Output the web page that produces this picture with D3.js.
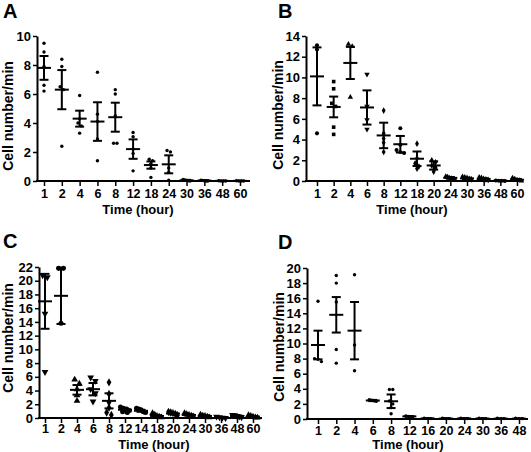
<!DOCTYPE html>
<html><head><meta charset="utf-8">
<script src="https://cdn.jsdelivr.net/npm/d3@7"></script>
<style>
html,body{margin:0;padding:0;background:#fff;}
svg text{font-family:"Liberation Sans",Arial,sans-serif;font-weight:bold;fill:#000;}
</style></head>
<body><svg id="c" width="531" height="452"></svg>
<script>
// ---------- Data ----------
const catsA = ["1","2","4","6","8","12","18","24","30","36","48","60"];
const meanA = [7.8, 6.3, 4.3, 4.1, 4.4, 2.2, 1.1, 1.15, 0.05, 0.03, 0.01, 0.01];
const semA  = [0.82, 1.35, 0.55, 1.33, 1.0, 0.67, 0.25, 0.62, 0.03, 0.02, 0.01, 0.01];
const pointsA = [
  [9.5, 8.9, 7.9, 6.6, 6.2],
  [8.4, 7.9, 6.5, 6.3, 2.4],
  [5.9, 4.3, 4.0, 3.8, 3.3],
  [7.5, 4.6, 4.1, 2.9, 1.4],
  [6.3, 6.0, 4.5, 2.6, 2.6],
  [3.35, 3.05, 2.2, 1.9, 0.7],
  [1.5, 1.4, 1.2, 0.9, 0.25],
  [2.1, 2.0, 0.9, 0.6, 0.05],
  [0.1, 0.08, 0.04, 0.02, 0.0],
  [0.06, 0.04, 0.02, 0.0, 0.0],
  [0.02, 0.0, 0.0, 0.0],
  [0.02, 0.0, 0.0, 0.0]
];
const yTicksA = [0, 2, 4, 6, 8, 10];

const catsB = ["1","2","4","6","8","12","18","20","24","30","36","48","60"];
const meanB = [10.1, 7.15, 11.4, 7.1, 4.4, 3.55, 2.15, 1.5, 0.3, 0.25, 0.2, 0.03, 0.12];
const semB  = [2.8, 1.0, 1.55, 1.65, 1.23, 0.8, 0.7, 0.4, 0.08, 0.07, 0.06, 0.02, 0.08];
const pointsB = [
  [13.1, 12.7, 4.6],
  [9.6, 8.9, 7.5, 7.2, 5.2, 4.5],
  [13.2, 13.0, 8.1],
  [10.3, 7.2, 5.9, 5.0],
  [6.8, 4.6, 4.1, 3.7, 2.8],
  [5.1, 3.5, 3.0, 2.8, 2.7],
  [3.6, 2.2, 1.7, 1.4, 1.2],
  [2.0, 1.8, 1.5, 1.3, 0.9],
  [0.45, 0.4, 0.3, 0.25, 0.2, 0.15],
  [0.4, 0.35, 0.3, 0.2, 0.15],
  [0.35, 0.3, 0.2, 0.15, 0.1],
  [0.05, 0.03, 0.02, 0.0],
  [0.3, 0.2, 0.1, 0.05, 0.0]
];
const yTicksB = [0, 2, 4, 6, 8, 10, 12, 14];

const catsC = ["1","2","4","6","8","12","14","18","20","24","30","36","48","60"];
const meanC = [17.0, 17.8, 4.1, 4.2, 2.5, 1.2, 1.05, 0.3, 0.65, 0.45, 0.3, 0.1, 0.3, 0.2];
const semC  = [4.0, 4.1, 0.7, 0.9, 1.1, 0.15, 0.15, 0.1, 0.12, 0.1, 0.08, 0.05, 0.08, 0.06];
const pointsC = [
  [20.8, 20.5, 15.2, 6.7],
  [21.8, 21.8, 13.8],
  [5.6, 5.0, 4.2, 3.3, 2.5],
  [5.9, 5.4, 4.2, 3.6, 2.4],
  [5.2, 3.5, 2.3, 1.5, 0.8, 0.45],
  [1.6, 1.4, 1.3, 1.1, 0.9, 0.8],
  [1.4, 1.3, 1.2, 0.9, 0.8],
  [0.7, 0.5, 0.3, 0.2, 0.1],
  [0.9, 0.8, 0.7, 0.6, 0.4],
  [0.7, 0.55, 0.45, 0.35, 0.2],
  [0.5, 0.35, 0.3, 0.2, 0.1],
  [0.2, 0.1, 0.05, 0.0],
  [0.45, 0.4, 0.3, 0.2, 0.1],
  [0.4, 0.3, 0.2, 0.1, 0.05]
];
const yTicksC = [0, 2, 4, 6, 8, 10, 12, 14, 16, 18, 20, 22];

const catsD = ["1","2","4","6","8","12","16","20","24","30","36","48"];
const meanD = [9.8, 13.8, 11.7, 2.45, 2.35, 0.35, 0.08, 0.06, 0.08, 0.06, 0.05, 0.05];
const semD  = [1.9, 2.35, 3.8, 0.08, 0.9, 0.05, 0.02, 0.02, 0.02, 0.02, 0.02, 0.02];
const pointsD = [
  [15.6, 8.0, 7.9, 7.6],
  [19.0, 18.0, 15.5, 9.2, 7.4],
  [19.1, 9.8, 6.4],
  [2.55, 2.5, 2.45, 2.4, 2.35],
  [3.9, 3.9, 2.4, 2.0, 1.5, 0.7],
  [0.4, 0.35, 0.3, 0.3],
  [0.1, 0.05, 0.05],
  [0.1, 0.05, 0.05],
  [0.1, 0.05, 0.05],
  [0.1, 0.05, 0.05],
  [0.1, 0.05, 0.05],
  [0.1, 0.05, 0.05]
];
const yTicksD = [0, 2, 4, 6, 8, 10, 12, 14, 16, 18, 20];

const panelLetters = ["A", "B", "C", "D"];
const xTitle = "Time (hour)";
const yTitle = "Cell number/min";

// marker shape per category (styling)
const shapesB = ["circle","square","triangle","down","diamond","circle","diamond","diamond","triangle","diamond","diamond","circle","triangle"];
const shapesC = ["down","circle","triangle","down","diamond","circle","circle","triangle","diamond","triangle","triangle","down","down","triangle"];

// ---------- Layout ----------
const panels = [
  {letter: panelLetters[0], cats: catsA, mean: meanA, sem: semA, pts: pointsA, ticks: yTicksA,
   axL: 37, axR: 250, c0: 44, c1: 240, y0: 181, yT: 36, lx: 3, ly: 18,
   ytx: 13, yty: 116, xtx: 138, xty: 214, tlY: 198, mode: "dot", ms: 1.7},
  {letter: panelLetters[1], cats: catsB, mean: meanB, sem: semB, pts: pointsB, ticks: yTicksB,
   axL: 306, axR: 523, c0: 317, c1: 517, y0: 181, yT: 36, lx: 278, ly: 18,
   ytx: 283, yty: 115, xtx: 412, xty: 214, tlY: 198, mode: "sym", ms: 13, shapes: shapesB},
  {letter: panelLetters[2], cats: catsC, mean: meanC, sem: semC, pts: pointsC, ticks: yTicksC,
   axL: 39, axR: 262, c0: 45, c1: 253, y0: 418, yT: 267, lx: 3, ly: 248,
   ytx: 13, yty: 338, xtx: 154, xty: 449, tlY: 433, mode: "sym", ms: 20, shapes: shapesC},
  {letter: panelLetters[3], cats: catsD, mean: meanD, sem: semD, pts: pointsD, ticks: yTicksD,
   axL: 307, axR: 528, c0: 318, c1: 519, y0: 419, yT: 268, lx: 278, ly: 249,
   ytx: 284, yty: 347, xtx: 408, xty: 449, tlY: 435, mode: "dot", ms: 1.7}
];

const svg = d3.select("#c");
const symMap = {circle: d3.symbolCircle, square: d3.symbolSquare, triangle: d3.symbolTriangle,
                down: d3.symbolTriangle, diamond: d3.symbolDiamond};

panels.forEach(p => {
  const g = svg.append("g");
  const x = d3.scalePoint().domain(p.cats).range([p.c0, p.c1]);
  const yMax = p.ticks[p.ticks.length - 1];
  const y = d3.scaleLinear().domain([0, yMax]).range([p.y0, p.yT]);

  g.append("text").attr("x", p.lx).attr("y", p.ly).attr("font-size", 20).text(p.letter);

  const ya = g.append("g").attr("transform", `translate(${p.axL},0)`)
    .call(d3.axisLeft(y).tickValues(p.ticks).tickSize(4).tickSizeOuter(0).tickPadding(2));
  ya.select(".domain").attr("stroke", "#000").attr("stroke-width", 2);
  ya.selectAll(".tick line").attr("stroke", "#000").attr("stroke-width", 1.5);
  ya.selectAll(".tick text").attr("font-size", 13).attr("font-family", "Liberation Sans, Arial, sans-serif").attr("font-weight", "bold");

  const xa = g.append("g").attr("transform", `translate(0,${p.y0})`)
    .call(d3.axisBottom(x).tickSize(5).tickSizeOuter(0).tickPadding(3));
  xa.select(".domain").remove();
  xa.selectAll(".tick line").attr("stroke", "#000").attr("stroke-width", 1.5);
  xa.selectAll(".tick text").attr("font-size", 12.5).attr("font-family", "Liberation Sans, Arial, sans-serif")
    .attr("font-weight", "bold").attr("dy", null).attr("y", p.tlY - p.y0);
  g.append("line").attr("x1", p.axL - 1).attr("x2", p.axR).attr("y1", p.y0).attr("y2", p.y0)
    .attr("stroke", "#000").attr("stroke-width", 2);

  g.append("text").attr("transform", `translate(${p.ytx},${p.yty}) rotate(-90)`)
    .attr("text-anchor", "middle").attr("font-size", 14).text(yTitle);
  g.append("text").attr("x", p.xtx).attr("y", p.xty).attr("text-anchor", "middle")
    .attr("font-size", 13).text(xTitle);

  p.cats.forEach((c, i) => {
    const cx = x(c);
    const vals = p.pts[i].slice().sort((a, b) => b - a);
    const d = p.mode === "dot" ? 3.4 : Math.sqrt(p.ms) * 1.05;
    const maxW = p.mode === "dot" ? 7 : 9;
    const clusters = [];
    vals.forEach(v => {
      const py = y(v);
      const last = clusters[clusters.length - 1];
      if (last && Math.abs(py - last.py0) < d) last.items.push(py);
      else clusters.push({py0: py, items: [py]});
    });
    const shape = p.shapes ? p.shapes[i] : "circle";
    clusters.forEach(cl => {
      const n = cl.items.length;
      const step = n > 1 ? Math.min(d, maxW / (n - 1)) : 0;
      cl.items.forEach((py, k) => {
        const px = cx + (k - (n - 1) / 2) * step;
        if (p.mode === "dot") {
          g.append("circle").attr("cx", px).attr("cy", py).attr("r", p.ms).attr("fill", "#000");
        } else {
          const isDown = shape === "down";
          const path = d3.symbol().type(symMap[shape]).size(p.ms)();
          g.append("path").attr("d", path)
            .attr("transform", `translate(${px},${py})${isDown ? " rotate(180)" : ""}`)
            .attr("fill", "#000");
        }
      });
    });

    const m = p.mean[i], s = p.sem[i];
    const lo = y(Math.max(0, m - s)), hi = y(m + s);
    const eb = g.append("g").attr("stroke", "#000").attr("stroke-width", 2).attr("fill", "none");
    eb.append("line").attr("x1", cx).attr("x2", cx).attr("y1", hi).attr("y2", lo);
    eb.append("line").attr("x1", cx - 4.5).attr("x2", cx + 4.5).attr("y1", hi).attr("y2", hi);
    eb.append("line").attr("x1", cx - 4.5).attr("x2", cx + 4.5).attr("y1", lo).attr("y2", lo);
    eb.append("line").attr("x1", cx - 7).attr("x2", cx + 7).attr("y1", y(m)).attr("y2", y(m));
  });
});
</script></body></html>
